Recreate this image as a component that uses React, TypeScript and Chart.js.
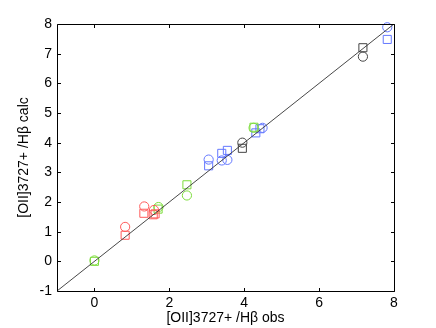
import React, { useEffect, useRef } from "react";
import { Chart, registerables } from "chart.js";

Chart.register(...registerables);

const xTicks = [0, 2, 4, 6, 8];
const yTicks = [-1, 0, 1, 2, 3, 4, 5, 6, 7, 8];

const redCircles = [
  { x: 0.82, y: 1.16 },
  { x: 1.33, y: 1.85 },
  { x: 1.59, y: 1.73 },
];
const redSquares = [
  { x: 0.82, y: 0.88 },
  { x: 1.32, y: 1.62 },
  { x: 1.57, y: 1.57 },
  { x: 1.62, y: 1.6 },
];
const greenCircles = [
  { x: 0.0, y: 0.03 },
  { x: 1.71, y: 1.83 },
  { x: 2.47, y: 2.22 },
  { x: 4.25, y: 4.5 },
];
const greenSquares = [
  { x: 0.0, y: 0.0 },
  { x: 1.7, y: 1.76 },
  { x: 2.47, y: 2.58 },
  { x: 4.26, y: 4.52 },
];
const blueCircles = [
  { x: 3.05, y: 3.43 },
  { x: 3.4, y: 3.4 },
  { x: 3.55, y: 3.42 },
  { x: 4.49, y: 4.5 },
  { x: 7.82, y: 7.89 },
];
const blueSquares = [
  { x: 3.05, y: 3.22 },
  { x: 3.4, y: 3.64 },
  { x: 3.55, y: 3.74 },
  { x: 4.31, y: 4.33 },
  { x: 4.42, y: 4.47 },
  { x: 7.82, y: 7.48 },
];
const blackCircles = [
  { x: 3.95, y: 4.0 },
  { x: 7.17, y: 6.9 },
];
const blackSquares = [
  { x: 3.95, y: 3.81 },
  { x: 7.17, y: 7.2 },
];
const diagonal = [
  { x: -1, y: -1 },
  { x: 8, y: 8 },
];

const FONT = "'Liberation Sans', Arial, Helvetica, sans-serif";

const framePlugin = {
  id: "frame",
  afterDraw(chart: any) {
    const { ctx, chartArea } = chart;
    const xs = chart.scales.x;
    const ys = chart.scales.y;
    const { left, right, top, bottom } = chartArea;
    ctx.save();
    ctx.strokeStyle = "#000";
    ctx.lineWidth = 1;
    const L = Math.round(left) + 0.5;
    const R = Math.round(right) + 0.5;
    const T = Math.round(top) + 0.5;
    const B = Math.round(bottom) + 0.5;
    ctx.beginPath();
    ctx.rect(L, T, R - L, B - T);
    ctx.stroke();
    const tl = 3.5;
    ctx.beginPath();
    xTicks.forEach((v) => {
      const px = Math.round(xs.getPixelForValue(v)) + 0.5;
      ctx.moveTo(px, B);
      ctx.lineTo(px, B - tl);
      ctx.moveTo(px, T);
      ctx.lineTo(px, T + tl);
    });
    yTicks.forEach((v) => {
      const py = Math.round(ys.getPixelForValue(v)) + 0.5;
      ctx.moveTo(L, py);
      ctx.lineTo(L + tl, py);
      ctx.moveTo(R, py);
      ctx.lineTo(R - tl, py);
    });
    ctx.stroke();
    ctx.restore();
  },
};

function markers(label: string, data: any[], color: string, style: string) {
  return {
    type: "scatter" as const,
    label,
    data,
    showLine: false,
    clip: false,
    pointStyle: style,
    pointRadius: style === "rect" ? 5.7 : 4.6,
    pointBorderWidth: 1,
    pointBorderColor: color,
    pointBackgroundColor: "rgba(0,0,0,0)",
    borderColor: color,
    backgroundColor: "rgba(0,0,0,0)",
  };
}

export default function App() {
  const ref = useRef<HTMLCanvasElement | null>(null);
  useEffect(() => {
    if (!ref.current) return;
    const chart = new Chart(ref.current, {
      type: "scatter",
      data: {
        datasets: [
          {
            type: "line",
            label: "diag",
            data: diagonal,
            borderColor: "#333",
            borderWidth: 0.9,
            pointRadius: 0,
            fill: false,
          } as any,
          markers("rc", redCircles, "#ff5a5a", "circle"),
          markers("rs", redSquares, "#ff5a5a", "rect"),
          markers("gc", greenCircles, "#7ddc3c", "circle"),
          markers("gs", greenSquares, "#7ddc3c", "rect"),
          markers("bc", blueCircles, "#6478ff", "circle"),
          markers("bs", blueSquares, "#6478ff", "rect"),
          markers("kc", blackCircles, "#444", "circle"),
          markers("ks", blackSquares, "#444", "rect"),
        ],
      },
      options: {
        animation: false,
        responsive: false,
        maintainAspectRatio: false,
        layout: { padding: { top: 24, right: 42, left: 0, bottom: 0 } },
        plugins: { legend: { display: false }, tooltip: { enabled: false } },
        scales: {
          x: {
            type: "linear",
            min: -1,
            max: 8,
            afterBuildTicks: (s: any) => {
              s.ticks = xTicks.map((v) => ({ value: v }));
            },
            afterFit: (s: any) => {
              s.height = 37;
            },
            grid: { display: false, drawTicks: false },
            border: { display: false },
            ticks: {
              padding: 4,
              color: "#000",
              font: { family: FONT, size: 14 },
            },
            title: {
              display: true,
              text: "[OII]3727+ /Hβ obs",
              color: "#000",
              font: { family: FONT, size: 14 },
              padding: { top: 0, bottom: 1 },
            },
          },
          y: {
            type: "linear",
            min: -1,
            max: 8,
            afterBuildTicks: (s: any) => {
              s.ticks = yTicks.map((v) => ({ value: v }));
            },
            afterFit: (s: any) => {
              s.width = 57;
            },
            grid: { display: false, drawTicks: false },
            border: { display: false },
            ticks: {
              padding: 5,
              color: "#000",
              font: { family: FONT, size: 14 },
            },
            title: {
              display: true,
              text: "[OII]3727+ /Hβ calc",
              color: "#000",
              font: { family: FONT, size: 14 },
              padding: { top: 16, bottom: 0 },
            },
          },
        },
      },
      plugins: [framePlugin],
    });
    return () => chart.destroy();
  }, []);
  return (
    <div style={{ position: "absolute", left: 0, top: 0, width: 436, height: 328, background: "#fff" }}>
      <canvas ref={ref} width={436} height={328} style={{ width: 436, height: 328 }} />
    </div>
  );
}
